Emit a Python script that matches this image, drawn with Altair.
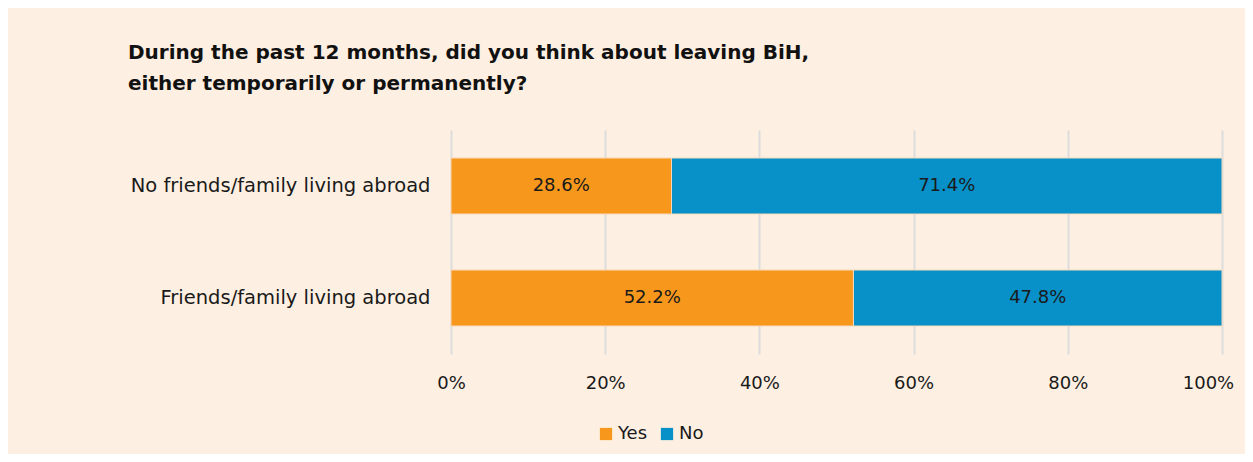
import altair as alt
import pandas as pd

categories = ["No friends/family living abroad", "Friends/family living abroad"]
yes_values = [28.6, 52.2]
no_values = [71.4, 47.8]
series = ["Yes", "No"]
colors = ["#F7981D", "#0890C8"]
x_ticks = [0, 20, 40, 60, 80, 100]

rows = []
for c, y, n in zip(categories, yes_values, no_values):
    rows.append({"category": c, "answer": "Yes", "order": 0, "value": y})
    rows.append({"category": c, "answer": "No", "order": 1, "value": n})
df = pd.DataFrame(rows)

FONT = "DejaVu Sans"
BG = "#FDEFE1"
TXT = "#1a1a1a"

base = alt.Chart(df)

bars = base.mark_bar(stroke="#F6D9BA", strokeWidth=1).encode(
    y=alt.Y("category:N", sort=categories, title=None,
            scale=alt.Scale(paddingInner=0.5, paddingOuter=0.25),
            axis=alt.Axis(labelFontSize=19.5, labelColor=TXT, labelFont=FONT,
                          ticks=False, domain=False, labelPadding=21, grid=False,
                          labelLimit=420)),
    x=alt.X("value:Q", stack="zero", title=None,
            scale=alt.Scale(domain=[0, 100], nice=False),
            axis=alt.Axis(values=x_ticks, labelExpr="datum.value + '%'",
                          labelFontSize=18, labelColor=TXT, labelFont=FONT,
                          labelFlush=False,
                          labelOffset={"condition": {"test": "datum.value == 100", "value": -14},
                                       "value": 0},
                          ticks=False, domain=False, labelPadding=20,
                          grid=True, gridColor="#DCDCDC", gridWidth=2)),
    color=alt.Color("answer:N", sort=series, title=None,
                    scale=alt.Scale(domain=series, range=colors),
                    legend=alt.Legend(orient="none", legendX=146, legendY=295,
                                      direction="horizontal", symbolType="square",
                                      symbolSize=150, symbolStrokeWidth=0,
                                      labelFontSize=18, labelFont=FONT,
                                      labelColor=TXT, labelOffset=3,
                                      columnPadding=10)),
    order=alt.Order("order:Q"),
)

labels = base.transform_stack(
    stack="value", groupby=["category"], sort=[alt.SortField("order")],
    as_=["v0", "v1"]
).transform_calculate(
    mid="(datum.v0 + datum.v1) / 2",
    label="format(datum.value, '.1f') + '%'"
).mark_text(fontSize=18, font=FONT, color=TXT).encode(
    y=alt.Y("category:N", sort=categories),
    x=alt.X("mid:Q"),
    text="label:N",
)

chart = alt.layer(bars, labels).properties(
    width=771, height=224,
    background=BG,
    padding={"left": 443, "top": 122, "right": 23, "bottom": 100},
    autosize=alt.AutoSizeParams(type="none"),
    title=alt.TitleParams(
        text=["During the past 12 months, did you think about leaving BiH,",
              "either temporarily or permanently?"],
        anchor="start", frame="group", dx=-323, offset=36,
        fontSize=20, font=FONT, fontWeight="bold", color="#111111",
        lineHeight=31,
    ),
).configure_view(stroke=None)

chart.save("out.html", embed_options={"renderer": "svg", "actions": False})
